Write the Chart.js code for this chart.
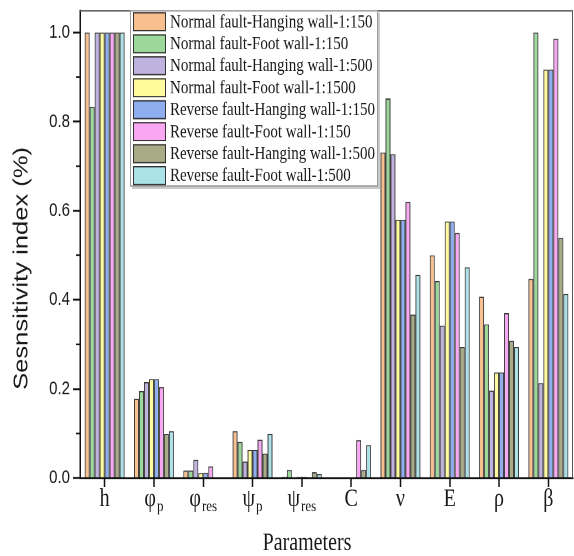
<!DOCTYPE html>
<html>
<head>
<meta charset="utf-8">
<script src="https://cdn.jsdelivr.net/npm/chart.js@4.4.1/dist/chart.umd.min.js"></script>
<style>
  html, body { margin: 0; padding: 0; background: #fff; overflow: hidden; }
  #wrap {
    position: absolute; left: 0; top: 0;
    width: 574px; height: 435px;
    transform: scaleY(1.278); transform-origin: 0 0;
  }
</style>
</head>
<body>
<div id="wrap"><canvas id="chart"></canvas></div>
<script>
// Parameters on the x axis (main symbol + subscript)
const categories = ['h', 'φp', 'φres', 'ψp', 'ψres', 'C', 'ν', 'E', 'ρ', 'β'];
const labelMain  = ['h', 'φ', 'φ', 'ψ', 'ψ', 'C', 'ν', 'E', 'ρ', 'β'];
const labelSub   = ['', 'p', 'res', 'p', 'res', '', '', '', '', ''];

const seriesNames = [
  'Normal fault-Hanging wall-1:150',
  'Normal fault-Foot wall-1:150',
  'Normal fault-Hanging wall-1:500',
  'Normal fault-Foot wall-1:1500',
  'Reverse fault-Hanging wall-1:150',
  'Reverse fault-Foot wall-1:150',
  'Reverse fault-Hanging wall-1:500',
  'Reverse fault-Foot wall-1:500'
];

// Sensitivity index of each parameter
const normalHanging150  = [1.000, 0.178, 0.017, 0.105, 0.003, 0.000, 0.731, 0.500, 0.407, 0.447];
const normalFoot150     = [0.833, 0.195, 0.017, 0.081, 0.018, 0.000, 0.852, 0.442, 0.345, 1.000];
const normalHanging500  = [1.000, 0.215, 0.041, 0.037, 0.000, 0.000, 0.727, 0.342, 0.196, 0.213];
const normalFoot1500    = [1.000, 0.222, 0.011, 0.063, 0.003, 0.000, 0.580, 0.576, 0.237, 0.917];
const reverseHanging150 = [1.000, 0.222, 0.012, 0.063, 0.003, 0.000, 0.580, 0.576, 0.237, 0.917];
const reverseFoot150    = [1.000, 0.204, 0.026, 0.086, 0.000, 0.085, 0.620, 0.550, 0.370, 0.986];
const reverseHanging500 = [1.000, 0.099, 0.000, 0.055, 0.013, 0.018, 0.367, 0.294, 0.308, 0.539];
const reverseFoot500    = [1.000, 0.105, 0.000, 0.099, 0.009, 0.074, 0.456, 0.473, 0.294, 0.413];

const yTicks = [0.0, 0.2, 0.4, 0.6, 0.8, 1.0];
const yMinorTicks = [0.1, 0.3, 0.5, 0.7, 0.9];

const seriesValues = [normalHanging150, normalFoot150, normalHanging500, normalFoot1500,
                      reverseHanging150, reverseFoot150, reverseHanging500, reverseFoot500];
const seriesColors = ['#F9C08F', '#9DD89B', '#BFB2DE', '#FFFB9C',
                      '#8EAEF0', '#F9A7F3', '#A9AA86', '#ABE2E8'];

const TEXT = '#1a1a1a';
const SERIF = '"Liberation Serif", "Times New Roman", serif';
const SANS = '"Liberation Sans", Arial, sans-serif';

// Frame, minor ticks, subscripted category labels, axis titles and the boxed legend
const decorations = {
  id: 'decorations',
  afterDraw(chart) {
    const { ctx, chartArea: a, scales: { x, y } } = chart;
    ctx.save();

    // top and right frame lines
    ctx.strokeStyle = '#555';
    ctx.lineWidth = 1;
    ctx.beginPath();
    ctx.moveTo(a.left, a.top + 0.5);
    ctx.lineTo(a.right - 0.5, a.top + 0.5);
    ctx.lineTo(a.right - 0.5, a.bottom);
    ctx.stroke();

    // minor y ticks
    ctx.strokeStyle = '#111';
    ctx.lineWidth = 1.3;
    yMinorTicks.forEach(v => {
      const py = y.getPixelForValue(v);
      ctx.beginPath();
      ctx.moveTo(a.left - 4, py);
      ctx.lineTo(a.left, py);
      ctx.stroke();
    });

    // category labels with subscripts
    ctx.fillStyle = TEXT;
    ctx.textBaseline = 'alphabetic';
    ctx.textAlign = 'left';
    const labelY = a.bottom + 22;
    categories.forEach((c, i) => {
      const px = x.getPixelForValue(i);
      ctx.font = '20px ' + SERIF;
      const w1 = ctx.measureText(labelMain[i]).width;
      ctx.font = '13px ' + SERIF;
      const w2 = labelSub[i] ? ctx.measureText(labelSub[i]).width + 1 : 0;
      const start = px - (w1 + w2) / 2;
      ctx.font = '20px ' + SERIF;
      ctx.fillText(labelMain[i], start, labelY);
      if (labelSub[i]) {
        ctx.font = '13px ' + SERIF;
        ctx.fillText(labelSub[i], start + w1 + 1, labelY + 4);
      }
    });

    // x axis title
    ctx.font = '20px ' + SERIF;
    ctx.textAlign = 'center';
    ctx.textBaseline = 'middle';
    ctx.fillText('Parameters', 307, 425);

    // y axis title
    ctx.save();
    ctx.translate(22, 210);
    ctx.rotate(-Math.PI / 2);
    ctx.font = '20px ' + SANS;
    ctx.fillText('Sesnsitivity index (%)', 0, 0);
    ctx.restore();

    // legend box
    const lx = 130, ly = a.top, lw = 248, lh = 138;
    ctx.fillStyle = '#c9c9c9';
    ctx.fillRect(lx + 2, ly + 2, lw, lh);
    ctx.fillStyle = '#fff';
    ctx.fillRect(lx, ly, lw, lh);
    ctx.strokeStyle = '#9a9a9a';
    ctx.lineWidth = 1;
    ctx.strokeRect(lx + 0.5, ly + 0.5, lw - 1, lh - 1);

    chart.data.datasets.forEach((ds, i) => {
      const sy = ly + 1.6 + i * 17.2;
      ctx.fillStyle = ds.backgroundColor;
      ctx.fillRect(lx + 3, sy, 33, 14.9);
      ctx.strokeStyle = '#333';
      ctx.lineWidth = 1;
      ctx.strokeRect(lx + 3.5, sy + 0.5, 32, 13.9);
      ctx.fillStyle = TEXT;
      ctx.font = '15px ' + SERIF;
      ctx.textAlign = 'left';
      ctx.textBaseline = 'middle';
      ctx.fillText(ds.label, lx + 40, sy + 7.8);
    });

    ctx.restore();
  }
};

new Chart(document.getElementById('chart'), {
  type: 'bar',
  data: {
    labels: categories,
    datasets: seriesNames.map((name, i) => ({
      label: name,
      data: seriesValues[i],
      backgroundColor: seriesColors[i],
      borderColor: '#3a3a3a',
      borderWidth: 1,
      categoryPercentage: 0.81,
      barPercentage: 1.0
    }))
  },
  options: {
    responsive: true,
    maintainAspectRatio: false,
    devicePixelRatio: 2,
    animation: false,
    layout: { padding: { top: 8, right: 1, left: 0, bottom: 0 } },
    plugins: { legend: { display: false }, tooltip: { enabled: false } },
    scales: {
      x: {
        offset: true,
        grid: { offset: false, drawOnChartArea: false, tickLength: 7, tickWidth: 1.5, tickColor: '#111' },
        border: { color: '#111', width: 1.5 },
        ticks: { display: false },
        afterFit(scale) {
          scale.height = 61;
          scale.paddingLeft = 0;
          scale.paddingRight = 0;
        }
      },
      y: {
        min: 0,
        max: 1.05,
        grid: { drawOnChartArea: false, tickLength: 7, tickWidth: 1.5, tickColor: '#111' },
        border: { color: '#111', width: 1.5 },
        ticks: {
          padding: 3,
          color: TEXT,
          font: { family: SANS, size: 15 },
          callback: v => Number(v).toFixed(1)
        },
        afterBuildTicks(scale) { scale.ticks = yTicks.map(v => ({ value: v })); },
        afterFit(scale) {
          scale.width = 80;
          scale.paddingTop = 0;
          scale.paddingBottom = 0;
        }
      }
    }
  },
  plugins: [decorations]
});
</script>
</body>
</html>
